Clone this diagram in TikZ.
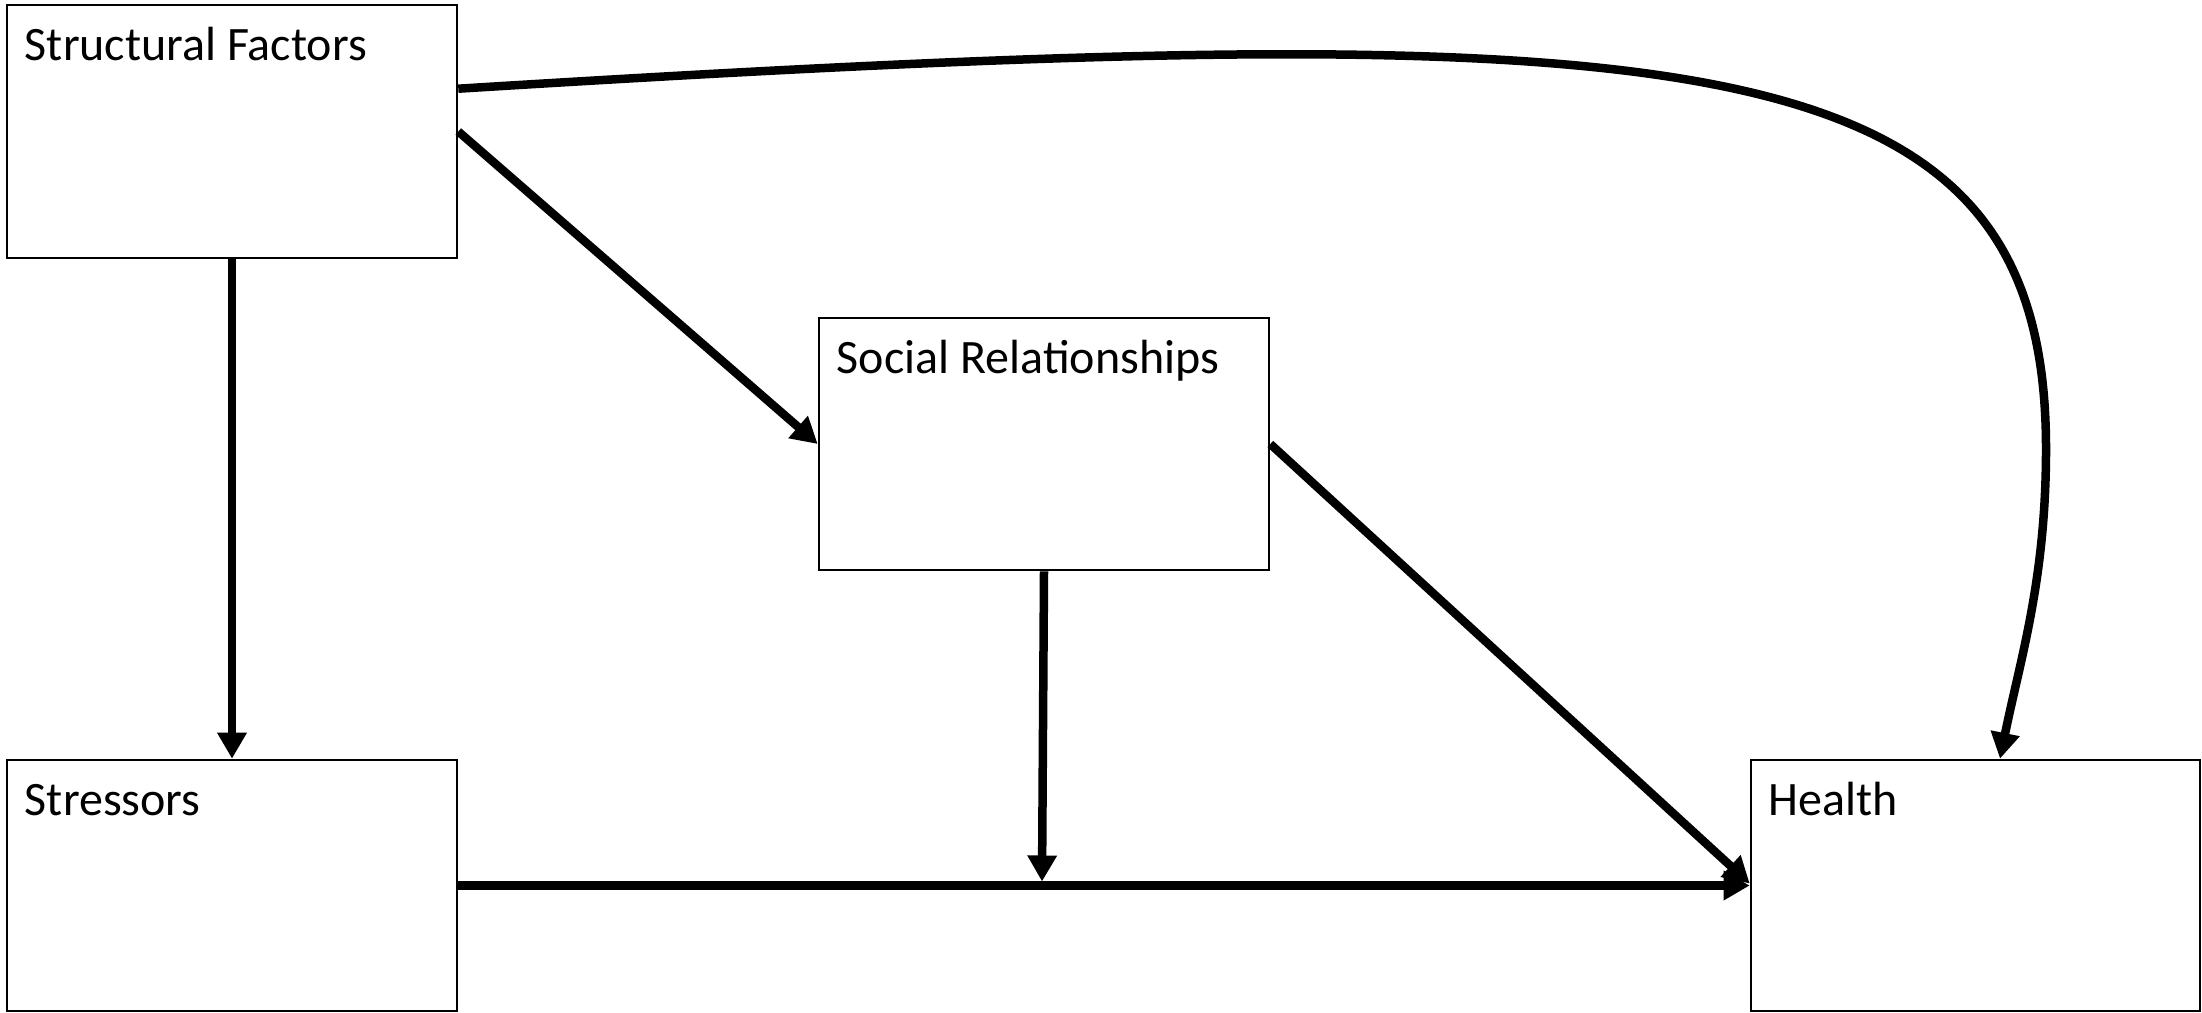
\documentclass[tikz,border=0pt]{standalone}
\usepackage{fontspec}
\setmainfont{Carlito}
\usetikzlibrary{arrows.meta,calc}
\begin{document}
\begin{tikzpicture}[x=1pt,y=-1pt,
  box/.style={draw=black,line width=2.6pt,rectangle,inner sep=0pt,fill=white},
  lbl/.style={anchor=base west,inner sep=0pt,font=\fontsize{48}{58}\selectfont},
  conn/.style={line width=8.5pt,-{Triangle[length=26pt,width=28pt]}}]
\useasboundingbox (0,0) rectangle (2202,1012);
\node[box,minimum width=450pt,minimum height=253pt] (SF) at (232,131.5) {};
\node[box,minimum width=450pt,minimum height=252pt] (SR) at (1044,444) {};
\node[box,minimum width=450pt,minimum height=251pt] (ST) at (232,885.5) {};
\node[box,minimum width=449pt,minimum height=251pt] (H) at (1975.5,885.5) {};
\node[lbl] (tSF) at ($(SF.north west)+(19,57)$) {Structural Factors};
\node[lbl] (tSR) at ($(SR.north west)+(19,57)$) {Social Relationships};
\node[lbl] (tST) at ($(ST.north west)+(19,57)$) {Stressors};
\node[lbl] (tH) at ($(H.north west)+(19,57)$) {Health};
\coordinate (cs) at ($(SF.north east)+(0,85)$);
\coordinate (ce) at ($(H.north)+(24.5,0)$);
\coordinate (mid) at ($(ST.east)!0.452!(H.west)+(0,-4)$);
\draw[conn] (SF.south) -- (ST.north);
\draw[conn] (SF.east) -- (SR.west);
\draw[conn] (SR.south) -- (mid);
\draw[conn] (ST.east) -- (H.west);
\draw[conn] (SR.east) -- ($(H.west)+(0,-2)$);
\draw[conn] (cs) .. controls (1700,12) and (2046,36) .. (2046,449)
  .. controls (2046,580) and (2020,660) .. (ce);
\end{tikzpicture}
\end{document}
